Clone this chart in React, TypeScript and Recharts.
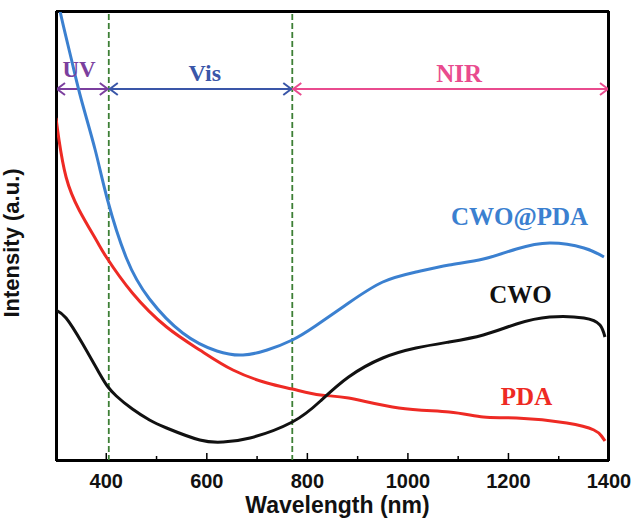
import React from 'react';
import { LineChart, Line, XAxis, YAxis, ReferenceLine, ReferenceDot, CartesianGrid } from 'recharts';

const xTicks = [400, 500, 600, 700, 800, 900, 1000, 1100, 1200, 1300, 1400];

const cwoPdaWl = [302, 308, 330, 350, 378, 402, 440, 486, 552, 620, 672, 720, 770, 816, 882, 950, 1016, 1082, 1150, 1216, 1282, 1350, 1390];
const cwoPdaVal = [472, 450, 403, 362, 311, 262, 203, 162, 128, 110, 106, 111, 121, 135, 158, 179, 189, 196, 202, 212, 218, 213, 204];

const pdaWl = [300, 306, 320, 346, 380, 400, 452, 520, 586, 652, 720, 770, 826, 882, 982, 1082, 1150, 1216, 1316, 1370, 1385, 1392];
const pdaVal = [343, 321, 284, 251, 221, 204, 168, 134, 111, 91, 78, 72, 66, 63, 53, 49, 44, 43, 38, 31, 25, 20];

const cwoWl = [300, 320, 352, 386, 402, 420, 452, 486, 520, 586, 632, 686, 770, 826, 882, 950, 1016, 1082, 1150, 1216, 1282, 1350, 1382, 1392];
const cwoVal = [151, 143, 118, 88, 75, 65, 52, 41, 33, 21, 19, 23, 39, 60, 84, 103, 113, 119, 126, 137, 144, 143, 136, 124];

const xDomain = [300, 1400];
const yDomain = [0, 450];

const regionBounds = [300, 405, 770, 1400];
const regionNames = ['UV', 'Vis', 'NIR'];
const regionColors = ['#7b3f9e', '#3a56a8', '#e94b8e'];

const toRows = (wl: number[], v: number[]) => wl.map((w, i) => ({ wl: w, v: v[i] }));
const cwoPdaData = toRows(cwoPdaWl, cwoPdaVal);
const pdaData = toRows(pdaWl, pdaVal);
const cwoData = toRows(cwoWl, cwoVal);

const SANS = '"Liberation Sans", Arial, sans-serif';
const SERIF = '"Liberation Serif", "Times New Roman", serif';

const renderTick = (props: any) => {
  const { x, y, payload } = props;
  const major = payload.value % 200 === 0;
  return (
    <g>
      <line x1={x} x2={x} y1={y} y2={y - (major ? 8 : 5)} stroke="#000" strokeWidth={1.5} />
      {major && (
        <text x={x} y={y + 27} textAnchor="middle" fontFamily={SANS} fontWeight="bold" fontSize={20} fill="#111">
          {payload.value}
        </text>
      )}
    </g>
  );
};

const makeArrow = (color: string) => (p: any) => {
  const { x1, y1, x2, y2 } = p;
  const h = 9;
  const w = 6;
  return (
    <g stroke={color} strokeWidth={2} fill="none">
      <line x1={x1} y1={y1} x2={x2} y2={y2} />
      <polyline points={`${x1 + h},${y1 - w} ${x1 + 1},${y1} ${x1 + h},${y1 + w}`} />
      <polyline points={`${x2 - h},${y2 - w} ${x2 - 1},${y2} ${x2 - h},${y2 + w}`} />
    </g>
  );
};

const makeText = (text: string, color: string, size: number, family: string, rotate = false) => (p: any) => {
  const { cx, cy } = p;
  return (
    <text
      x={cx}
      y={cy}
      textAnchor="middle"
      fill={color}
      fontSize={size}
      fontFamily={family}
      fontWeight="bold"
      transform={rotate ? `rotate(-90 ${cx} ${cy})` : undefined}
    >
      {text}
    </text>
  );
};

const hFrame = (p: any) => {
  const o = p.offset;
  return [o.top + 1, o.top + o.height - 1];
};
const vFrame = (p: any) => {
  const o = p.offset;
  return [o.left + 1, o.left + o.width - 1];
};

const frameLine = { stroke: '#000', strokeWidth: 2 };

export default function App() {
  return (
    <div style={{ position: 'absolute', left: 0, top: 0, background: '#fff' }}>
      <LineChart width={635} height={521} margin={{ top: 10, right: 25, bottom: 30, left: 55 }}>
        <CartesianGrid
          stroke="#000"
          strokeWidth={2}
          strokeOpacity={1}
          horizontalCoordinatesGenerator={hFrame}
          verticalCoordinatesGenerator={vFrame}
        />
        <XAxis
          type="number"
          dataKey="wl"
          domain={xDomain}
          ticks={xTicks}
          tick={renderTick}
          tickSize={0}
          tickMargin={0}
          tickLine={false}
          axisLine={frameLine}
          height={30}
          allowDataOverflow
          interval={0}
        />
        <XAxis
          xAxisId="top"
          orientation="top"
          type="number"
          domain={xDomain}
          ticks={xTicks}
          tick={false}
          tickLine={false}
          axisLine={frameLine}
          height={1}
          allowDataOverflow
        />
        <YAxis
          type="number"
          domain={yDomain}
          width={1}
          tick={false}
          tickLine={false}
          axisLine={frameLine}
          allowDataOverflow
        />
        <YAxis
          yAxisId="right"
          orientation="right"
          type="number"
          domain={yDomain}
          width={1}
          tick={false}
          tickLine={false}
          axisLine={frameLine}
          allowDataOverflow
        />
        <ReferenceLine x={regionBounds[1]} stroke="#3d7f35" strokeWidth={1.8} strokeDasharray="6 3" />
        <ReferenceLine x={regionBounds[2]} stroke="#3d7f35" strokeWidth={1.8} strokeDasharray="6 3" />
        {regionNames.map((n, i) => (
          <ReferenceLine
            key={n}
            segment={[{ x: regionBounds[i], y: 372 }, { x: regionBounds[i + 1], y: 372 }]}
            shape={makeArrow(regionColors[i])}
          />
        ))}
        <Line data={pdaData} dataKey="v" type="natural" stroke="#ee2a24" strokeWidth={3} dot={false} isAnimationActive={false} />
        <Line data={cwoData} dataKey="v" type="natural" stroke="#111111" strokeWidth={3} dot={false} isAnimationActive={false} />
        <Line data={cwoPdaData} dataKey="v" type="natural" stroke="#3b80d0" strokeWidth={3} dot={false} isAnimationActive={false} />
        <ReferenceDot x={346} y={384} r={0} ifOverflow="visible" shape={makeText('UV', regionColors[0], 23, SERIF)} />
        <ReferenceDot x={596} y={380} r={0} ifOverflow="visible" shape={makeText('Vis', regionColors[1], 24, SERIF)} />
        <ReferenceDot x={1102} y={379} r={0} ifOverflow="visible" shape={makeText('NIR', regionColors[2], 25, SERIF)} />
        <ReferenceDot x={1222} y={236} r={0} ifOverflow="visible" shape={makeText('CWO@PDA', '#3b80d0', 25, SERIF)} />
        <ReferenceDot x={1224} y={158} r={0} ifOverflow="visible" shape={makeText('CWO', '#111111', 25, SERIF)} />
        <ReferenceDot x={1236} y={56} r={0} ifOverflow="visible" shape={makeText('PDA', '#ee2a24', 25, SERIF)} />
        <ReferenceDot x={860} y={-52} r={0} ifOverflow="visible" shape={makeText('Wavelength (nm)', '#111', 23, SANS)} />
        <ReferenceDot x={226} y={218} r={0} ifOverflow="visible" shape={makeText('Intensity (a.u.)', '#111', 22, SANS, true)} />
      </LineChart>
    </div>
  );
}
